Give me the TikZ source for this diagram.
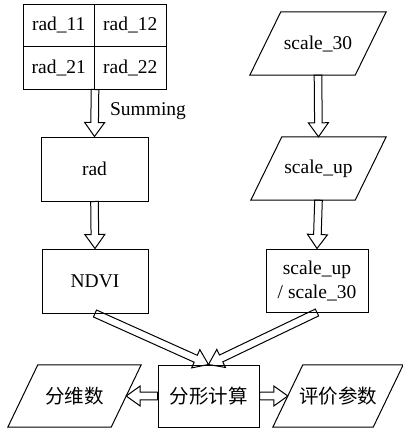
\documentclass[tikz,border=0pt]{standalone}
\usepackage{fontspec}
\setmainfont{Liberation Serif}
\newfontfamily\cjk{Noto Sans CJK SC}
\usetikzlibrary{calc}
\tikzset{
  txt/.style={font=\fontsize{19.5}{24}\selectfont},
  box/.style={draw, line width=1pt, inner sep=0pt, align=center, txt},
  cell/.style={box, minimum width=71.5pt, minimum height=42.5pt},
  plain/.style={inner sep=0pt, align=center, txt},
  cjktxt/.style={font={\cjk\fontsize{19.5}{24}\selectfont}},
  hol/.style={line width=1pt, line join=miter},
  para/.style={line width=1pt, line join=miter},
}
\newcommand\parabox[2]{%
  \draw[para] ($(#1.north west)+(#2,0)$) -- (#1.north east) -- ($(#1.south east)+(-#2,0)$) -- (#1.south west) -- cycle;}
\newcommand\hollowarrow[2]{%
  \coordinate (ha) at (#1);
  \coordinate (hz) at (#2);
  \coordinate (hb) at ($(hz)!14pt!(ha)$);
  \draw[hol] ($(ha)!3.8pt!90:(hz)$) -- ($(hb)!3.8pt!90:(hz)$) -- ($(hb)!10pt!90:(hz)$) -- (hz)
    -- ($(hb)!10pt!-90:(hz)$) -- ($(hb)!3.8pt!-90:(hz)$) -- ($(ha)!3.8pt!-90:(hz)$) -- cycle;}
\begin{document}
\begin{tikzpicture}[x=1pt,y=-1pt]
\useasboundingbox (0,0) rectangle (403,432);
% grid
\node[cell] (g11) at (58.75,25.25) {rad\_11};
\node[cell] (g12) at (130.25,25.25) {rad\_12};
\node[cell] (g21) at (58.75,67.75) {rad\_21};
\node[cell] (g22) at (130.25,67.75) {rad\_22};
\node[plain] (sum) at (148,111) {Summing};
\node[box, minimum width=107pt, minimum height=64pt] (rad) at (94.5,169) {rad};
\node[box, minimum width=106pt, minimum height=64pt] (ndvi) at (95,281) {NDVI};
% right column
\node[plain, minimum width=136pt, minimum height=63pt] (s30) at (318,43.5) {scale\_30};
\parabox{s30}{31}
\node[plain, minimum width=135pt, minimum height=63pt] (sup) at (318.5,168.5) {scale\_up};
\parabox{sup}{31}
\node[box, minimum width=102pt, minimum height=63pt] (ratio) at (317,280.5) {scale\_up\\/ scale\_30};
% bottom row
\node[box, cjktxt, minimum width=101pt, minimum height=62pt] (fx) at (208.5,396) {分形计算};
\node[plain, cjktxt, minimum width=133pt, minimum height=62pt] (fw) at (74.5,396) {分维数};
\parabox{fw}{30}
\node[plain, cjktxt, minimum width=130pt, minimum height=62pt] (pj) at (338,396) {评价参数};
\parabox{pj}{30}
\coordinate (fwin) at ($(fw.east)+(-15,0)$);
\coordinate (pjin) at ($(pj.west)+(15,0)$);
% connectors
\hollowarrow{g21.south east}{rad.north}
\hollowarrow{rad.south}{ndvi.north}
\hollowarrow{s30.south}{sup.north}
\hollowarrow{sup.south}{ratio.north}
\hollowarrow{ndvi.south}{fx.north}
\hollowarrow{ratio.south}{fx.north}
\hollowarrow{fx.west}{fwin}
\hollowarrow{fx.east}{pjin}
\end{tikzpicture}
\end{document}
